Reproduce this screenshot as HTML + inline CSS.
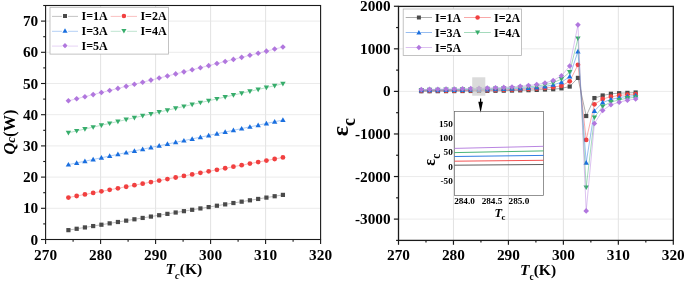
<!DOCTYPE html>
<html><head><meta charset="utf-8"><title>chart</title>
<style>html,body{margin:0;padding:0;background:#fff;}svg{display:block;will-change:transform;}</style>
</head><body>
<svg width="685" height="281" viewBox="0 0 685 281">
<rect width="685" height="281" fill="#fff"/>
<line x1="100.60" y1="5.5" x2="100.60" y2="239.5" stroke="#dbdbdb" stroke-width="0.8"/>
<line x1="155.60" y1="5.5" x2="155.60" y2="239.5" stroke="#dbdbdb" stroke-width="0.8"/>
<line x1="210.60" y1="5.5" x2="210.60" y2="239.5" stroke="#dbdbdb" stroke-width="0.8"/>
<line x1="265.60" y1="5.5" x2="265.60" y2="239.5" stroke="#dbdbdb" stroke-width="0.8"/>
<line x1="45.6" y1="208.30" x2="320.6" y2="208.30" stroke="#e6e6e6" stroke-width="0.8"/>
<line x1="45.6" y1="177.10" x2="320.6" y2="177.10" stroke="#e6e6e6" stroke-width="0.8"/>
<line x1="45.6" y1="145.90" x2="320.6" y2="145.90" stroke="#e6e6e6" stroke-width="0.8"/>
<line x1="45.6" y1="114.70" x2="320.6" y2="114.70" stroke="#e6e6e6" stroke-width="0.8"/>
<line x1="45.6" y1="83.50" x2="320.6" y2="83.50" stroke="#e6e6e6" stroke-width="0.8"/>
<line x1="45.6" y1="52.30" x2="320.6" y2="52.30" stroke="#e6e6e6" stroke-width="0.8"/>
<line x1="45.6" y1="21.10" x2="320.6" y2="21.10" stroke="#e6e6e6" stroke-width="0.8"/>
<polyline points="68.42,230.14 76.67,228.78 84.92,227.43 93.17,226.07 101.42,224.72 109.67,223.36 117.92,222.00 126.17,220.65 134.42,219.29 142.67,217.94 150.92,216.58 159.17,215.22 167.42,213.87 175.67,212.51 183.92,211.16 192.17,209.80 200.42,208.44 208.67,207.09 216.92,205.73 225.17,204.38 233.42,203.02 241.67,201.66 249.92,200.31 258.17,198.95 266.42,197.60 274.67,196.24 282.92,194.88" fill="none" stroke="#4a4a4a" stroke-width="0.7" stroke-opacity="0.5"/>
<rect x="66.32" y="228.04" width="4.20" height="4.20" fill="#4a4a4a"/>
<rect x="74.57" y="226.68" width="4.20" height="4.20" fill="#4a4a4a"/>
<rect x="82.82" y="225.33" width="4.20" height="4.20" fill="#4a4a4a"/>
<rect x="91.07" y="223.97" width="4.20" height="4.20" fill="#4a4a4a"/>
<rect x="99.32" y="222.62" width="4.20" height="4.20" fill="#4a4a4a"/>
<rect x="107.57" y="221.26" width="4.20" height="4.20" fill="#4a4a4a"/>
<rect x="115.82" y="219.90" width="4.20" height="4.20" fill="#4a4a4a"/>
<rect x="124.07" y="218.55" width="4.20" height="4.20" fill="#4a4a4a"/>
<rect x="132.32" y="217.19" width="4.20" height="4.20" fill="#4a4a4a"/>
<rect x="140.57" y="215.84" width="4.20" height="4.20" fill="#4a4a4a"/>
<rect x="148.82" y="214.48" width="4.20" height="4.20" fill="#4a4a4a"/>
<rect x="157.07" y="213.12" width="4.20" height="4.20" fill="#4a4a4a"/>
<rect x="165.32" y="211.77" width="4.20" height="4.20" fill="#4a4a4a"/>
<rect x="173.57" y="210.41" width="4.20" height="4.20" fill="#4a4a4a"/>
<rect x="181.82" y="209.06" width="4.20" height="4.20" fill="#4a4a4a"/>
<rect x="190.07" y="207.70" width="4.20" height="4.20" fill="#4a4a4a"/>
<rect x="198.32" y="206.34" width="4.20" height="4.20" fill="#4a4a4a"/>
<rect x="206.57" y="204.99" width="4.20" height="4.20" fill="#4a4a4a"/>
<rect x="214.82" y="203.63" width="4.20" height="4.20" fill="#4a4a4a"/>
<rect x="223.07" y="202.28" width="4.20" height="4.20" fill="#4a4a4a"/>
<rect x="231.32" y="200.92" width="4.20" height="4.20" fill="#4a4a4a"/>
<rect x="239.57" y="199.56" width="4.20" height="4.20" fill="#4a4a4a"/>
<rect x="247.82" y="198.21" width="4.20" height="4.20" fill="#4a4a4a"/>
<rect x="256.07" y="196.85" width="4.20" height="4.20" fill="#4a4a4a"/>
<rect x="264.32" y="195.50" width="4.20" height="4.20" fill="#4a4a4a"/>
<rect x="272.57" y="194.14" width="4.20" height="4.20" fill="#4a4a4a"/>
<rect x="280.82" y="192.78" width="4.20" height="4.20" fill="#4a4a4a"/>
<polyline points="68.42,197.54 76.67,195.99 84.92,194.45 93.17,192.91 101.42,191.37 109.67,189.83 117.92,188.28 126.17,186.74 134.42,185.20 142.67,183.66 150.92,182.12 159.17,180.57 167.42,179.03 175.67,177.49 183.92,175.95 192.17,174.41 200.42,172.86 208.67,171.32 216.92,169.78 225.17,168.24 233.42,166.70 241.67,165.15 249.92,163.61 258.17,162.07 266.42,160.53 274.67,158.99 282.92,157.44" fill="none" stroke="#F14040" stroke-width="0.7" stroke-opacity="0.5"/>
<circle cx="68.42" cy="197.54" r="2.40" fill="#F14040"/>
<circle cx="76.67" cy="195.99" r="2.40" fill="#F14040"/>
<circle cx="84.92" cy="194.45" r="2.40" fill="#F14040"/>
<circle cx="93.17" cy="192.91" r="2.40" fill="#F14040"/>
<circle cx="101.42" cy="191.37" r="2.40" fill="#F14040"/>
<circle cx="109.67" cy="189.83" r="2.40" fill="#F14040"/>
<circle cx="117.92" cy="188.28" r="2.40" fill="#F14040"/>
<circle cx="126.17" cy="186.74" r="2.40" fill="#F14040"/>
<circle cx="134.42" cy="185.20" r="2.40" fill="#F14040"/>
<circle cx="142.67" cy="183.66" r="2.40" fill="#F14040"/>
<circle cx="150.92" cy="182.12" r="2.40" fill="#F14040"/>
<circle cx="159.17" cy="180.57" r="2.40" fill="#F14040"/>
<circle cx="167.42" cy="179.03" r="2.40" fill="#F14040"/>
<circle cx="175.67" cy="177.49" r="2.40" fill="#F14040"/>
<circle cx="183.92" cy="175.95" r="2.40" fill="#F14040"/>
<circle cx="192.17" cy="174.41" r="2.40" fill="#F14040"/>
<circle cx="200.42" cy="172.86" r="2.40" fill="#F14040"/>
<circle cx="208.67" cy="171.32" r="2.40" fill="#F14040"/>
<circle cx="216.92" cy="169.78" r="2.40" fill="#F14040"/>
<circle cx="225.17" cy="168.24" r="2.40" fill="#F14040"/>
<circle cx="233.42" cy="166.70" r="2.40" fill="#F14040"/>
<circle cx="241.67" cy="165.15" r="2.40" fill="#F14040"/>
<circle cx="249.92" cy="163.61" r="2.40" fill="#F14040"/>
<circle cx="258.17" cy="162.07" r="2.40" fill="#F14040"/>
<circle cx="266.42" cy="160.53" r="2.40" fill="#F14040"/>
<circle cx="274.67" cy="158.99" r="2.40" fill="#F14040"/>
<circle cx="282.92" cy="157.44" r="2.40" fill="#F14040"/>
<polyline points="68.42,164.62 76.67,162.90 84.92,161.19 93.17,159.47 101.42,157.76 109.67,156.04 117.92,154.32 126.17,152.61 134.42,150.89 142.67,149.18 150.92,147.46 159.17,145.74 167.42,144.03 175.67,142.31 183.92,140.60 192.17,138.88 200.42,137.16 208.67,135.45 216.92,133.73 225.17,132.02 233.42,130.30 241.67,128.58 249.92,126.87 258.17,125.15 266.42,123.44 274.67,121.72 282.92,120.00" fill="none" stroke="#1A6FDF" stroke-width="0.7" stroke-opacity="0.5"/>
<path d="M65.72 166.62L71.12 166.62L68.42 161.92Z" fill="#1A6FDF"/>
<path d="M73.97 164.90L79.37 164.90L76.67 160.20Z" fill="#1A6FDF"/>
<path d="M82.22 163.19L87.62 163.19L84.92 158.49Z" fill="#1A6FDF"/>
<path d="M90.47 161.47L95.87 161.47L93.17 156.77Z" fill="#1A6FDF"/>
<path d="M98.72 159.76L104.12 159.76L101.42 155.06Z" fill="#1A6FDF"/>
<path d="M106.97 158.04L112.37 158.04L109.67 153.34Z" fill="#1A6FDF"/>
<path d="M115.22 156.32L120.62 156.32L117.92 151.62Z" fill="#1A6FDF"/>
<path d="M123.47 154.61L128.87 154.61L126.17 149.91Z" fill="#1A6FDF"/>
<path d="M131.72 152.89L137.12 152.89L134.42 148.19Z" fill="#1A6FDF"/>
<path d="M139.97 151.18L145.37 151.18L142.67 146.48Z" fill="#1A6FDF"/>
<path d="M148.22 149.46L153.62 149.46L150.92 144.76Z" fill="#1A6FDF"/>
<path d="M156.47 147.74L161.87 147.74L159.17 143.04Z" fill="#1A6FDF"/>
<path d="M164.72 146.03L170.12 146.03L167.42 141.33Z" fill="#1A6FDF"/>
<path d="M172.97 144.31L178.37 144.31L175.67 139.61Z" fill="#1A6FDF"/>
<path d="M181.22 142.60L186.62 142.60L183.92 137.90Z" fill="#1A6FDF"/>
<path d="M189.47 140.88L194.87 140.88L192.17 136.18Z" fill="#1A6FDF"/>
<path d="M197.72 139.16L203.12 139.16L200.42 134.46Z" fill="#1A6FDF"/>
<path d="M205.97 137.45L211.37 137.45L208.67 132.75Z" fill="#1A6FDF"/>
<path d="M214.22 135.73L219.62 135.73L216.92 131.03Z" fill="#1A6FDF"/>
<path d="M222.47 134.02L227.87 134.02L225.17 129.32Z" fill="#1A6FDF"/>
<path d="M230.72 132.30L236.12 132.30L233.42 127.60Z" fill="#1A6FDF"/>
<path d="M238.97 130.58L244.37 130.58L241.67 125.88Z" fill="#1A6FDF"/>
<path d="M247.22 128.87L252.62 128.87L249.92 124.17Z" fill="#1A6FDF"/>
<path d="M255.47 127.15L260.87 127.15L258.17 122.45Z" fill="#1A6FDF"/>
<path d="M263.72 125.44L269.12 125.44L266.42 120.74Z" fill="#1A6FDF"/>
<path d="M271.97 123.72L277.37 123.72L274.67 119.02Z" fill="#1A6FDF"/>
<path d="M280.22 122.00L285.62 122.00L282.92 117.30Z" fill="#1A6FDF"/>
<polyline points="68.42,132.80 76.67,130.91 84.92,129.03 93.17,127.14 101.42,125.26 109.67,123.38 117.92,121.49 126.17,119.61 134.42,117.72 142.67,115.84 150.92,113.96 159.17,112.07 167.42,110.19 175.67,108.30 183.92,106.42 192.17,104.54 200.42,102.65 208.67,100.77 216.92,98.88 225.17,97.00 233.42,95.12 241.67,93.23 249.92,91.35 258.17,89.46 266.42,87.58 274.67,85.70 282.92,83.81" fill="none" stroke="#37AD6B" stroke-width="0.7" stroke-opacity="0.5"/>
<path d="M65.72 130.80L71.12 130.80L68.42 135.50Z" fill="#37AD6B"/>
<path d="M73.97 128.91L79.37 128.91L76.67 133.61Z" fill="#37AD6B"/>
<path d="M82.22 127.03L87.62 127.03L84.92 131.73Z" fill="#37AD6B"/>
<path d="M90.47 125.14L95.87 125.14L93.17 129.84Z" fill="#37AD6B"/>
<path d="M98.72 123.26L104.12 123.26L101.42 127.96Z" fill="#37AD6B"/>
<path d="M106.97 121.38L112.37 121.38L109.67 126.08Z" fill="#37AD6B"/>
<path d="M115.22 119.49L120.62 119.49L117.92 124.19Z" fill="#37AD6B"/>
<path d="M123.47 117.61L128.87 117.61L126.17 122.31Z" fill="#37AD6B"/>
<path d="M131.72 115.72L137.12 115.72L134.42 120.42Z" fill="#37AD6B"/>
<path d="M139.97 113.84L145.37 113.84L142.67 118.54Z" fill="#37AD6B"/>
<path d="M148.22 111.96L153.62 111.96L150.92 116.66Z" fill="#37AD6B"/>
<path d="M156.47 110.07L161.87 110.07L159.17 114.77Z" fill="#37AD6B"/>
<path d="M164.72 108.19L170.12 108.19L167.42 112.89Z" fill="#37AD6B"/>
<path d="M172.97 106.30L178.37 106.30L175.67 111.00Z" fill="#37AD6B"/>
<path d="M181.22 104.42L186.62 104.42L183.92 109.12Z" fill="#37AD6B"/>
<path d="M189.47 102.54L194.87 102.54L192.17 107.24Z" fill="#37AD6B"/>
<path d="M197.72 100.65L203.12 100.65L200.42 105.35Z" fill="#37AD6B"/>
<path d="M205.97 98.77L211.37 98.77L208.67 103.47Z" fill="#37AD6B"/>
<path d="M214.22 96.88L219.62 96.88L216.92 101.58Z" fill="#37AD6B"/>
<path d="M222.47 95.00L227.87 95.00L225.17 99.70Z" fill="#37AD6B"/>
<path d="M230.72 93.12L236.12 93.12L233.42 97.82Z" fill="#37AD6B"/>
<path d="M238.97 91.23L244.37 91.23L241.67 95.93Z" fill="#37AD6B"/>
<path d="M247.22 89.35L252.62 89.35L249.92 94.05Z" fill="#37AD6B"/>
<path d="M255.47 87.46L260.87 87.46L258.17 92.16Z" fill="#37AD6B"/>
<path d="M263.72 85.58L269.12 85.58L266.42 90.28Z" fill="#37AD6B"/>
<path d="M271.97 83.70L277.37 83.70L274.67 88.40Z" fill="#37AD6B"/>
<path d="M280.22 81.81L285.62 81.81L282.92 86.51Z" fill="#37AD6B"/>
<polyline points="68.42,100.82 76.67,98.75 84.92,96.68 93.17,94.61 101.42,92.54 109.67,90.47 117.92,88.40 126.17,86.33 134.42,84.26 142.67,82.19 150.92,80.12 159.17,78.05 167.42,75.98 175.67,73.91 183.92,71.84 192.17,69.77 200.42,67.70 208.67,65.63 216.92,63.56 225.17,61.49 233.42,59.42 241.67,57.35 249.92,55.28 258.17,53.21 266.42,51.14 274.67,49.07 282.92,47.00" fill="none" stroke="#B177DE" stroke-width="0.7" stroke-opacity="0.5"/>
<path d="M65.62 100.82L68.42 98.02L71.22 100.82L68.42 103.62Z" fill="#B177DE"/>
<path d="M73.87 98.75L76.67 95.95L79.47 98.75L76.67 101.55Z" fill="#B177DE"/>
<path d="M82.12 96.68L84.92 93.88L87.72 96.68L84.92 99.48Z" fill="#B177DE"/>
<path d="M90.37 94.61L93.17 91.81L95.97 94.61L93.17 97.41Z" fill="#B177DE"/>
<path d="M98.62 92.54L101.42 89.74L104.22 92.54L101.42 95.34Z" fill="#B177DE"/>
<path d="M106.87 90.47L109.67 87.67L112.47 90.47L109.67 93.27Z" fill="#B177DE"/>
<path d="M115.12 88.40L117.92 85.60L120.72 88.40L117.92 91.20Z" fill="#B177DE"/>
<path d="M123.37 86.33L126.17 83.53L128.97 86.33L126.17 89.13Z" fill="#B177DE"/>
<path d="M131.62 84.26L134.42 81.46L137.22 84.26L134.42 87.06Z" fill="#B177DE"/>
<path d="M139.87 82.19L142.67 79.39L145.47 82.19L142.67 84.99Z" fill="#B177DE"/>
<path d="M148.12 80.12L150.92 77.32L153.72 80.12L150.92 82.92Z" fill="#B177DE"/>
<path d="M156.37 78.05L159.17 75.25L161.97 78.05L159.17 80.85Z" fill="#B177DE"/>
<path d="M164.62 75.98L167.42 73.18L170.22 75.98L167.42 78.78Z" fill="#B177DE"/>
<path d="M172.87 73.91L175.67 71.11L178.47 73.91L175.67 76.71Z" fill="#B177DE"/>
<path d="M181.12 71.84L183.92 69.04L186.72 71.84L183.92 74.64Z" fill="#B177DE"/>
<path d="M189.37 69.77L192.17 66.97L194.97 69.77L192.17 72.57Z" fill="#B177DE"/>
<path d="M197.62 67.70L200.42 64.90L203.22 67.70L200.42 70.50Z" fill="#B177DE"/>
<path d="M205.87 65.63L208.67 62.83L211.47 65.63L208.67 68.43Z" fill="#B177DE"/>
<path d="M214.12 63.56L216.92 60.76L219.72 63.56L216.92 66.36Z" fill="#B177DE"/>
<path d="M222.37 61.49L225.17 58.69L227.97 61.49L225.17 64.29Z" fill="#B177DE"/>
<path d="M230.62 59.42L233.42 56.62L236.22 59.42L233.42 62.22Z" fill="#B177DE"/>
<path d="M238.87 57.35L241.67 54.55L244.47 57.35L241.67 60.15Z" fill="#B177DE"/>
<path d="M247.12 55.28L249.92 52.48L252.72 55.28L249.92 58.08Z" fill="#B177DE"/>
<path d="M255.37 53.21L258.17 50.41L260.97 53.21L258.17 56.01Z" fill="#B177DE"/>
<path d="M263.62 51.14L266.42 48.34L269.22 51.14L266.42 53.94Z" fill="#B177DE"/>
<path d="M271.87 49.07L274.67 46.27L277.47 49.07L274.67 51.87Z" fill="#B177DE"/>
<path d="M280.12 47.00L282.92 44.20L285.72 47.00L282.92 49.80Z" fill="#B177DE"/>
<rect x="50" y="7.3" width="118.4" height="46.8" fill="#fff" stroke="#b4b4b4" stroke-width="0.8"/>
<path d="M52 16.40H61.9M68.1 16.40H78" stroke="#4a4a4a" stroke-width="0.65" stroke-opacity="0.5" fill="none"/>
<rect x="63.01" y="14.01" width="3.99" height="3.99" fill="#4a4a4a"/>
<text x="81.6" y="20.0" font-family="Liberation Serif, serif" font-weight="bold" font-size="12" fill="#000">I=1A</text>
<path d="M110.7 16.40H120.8M127.0 16.40H137" stroke="#F14040" stroke-width="0.65" stroke-opacity="0.5" fill="none"/>
<circle cx="123.90" cy="16.00" r="2.28" fill="#F14040"/>
<text x="140.4" y="20.0" font-family="Liberation Serif, serif" font-weight="bold" font-size="12" fill="#000">I=2A</text>
<path d="M52 31.30H61.9M68.1 31.30H78" stroke="#1A6FDF" stroke-width="0.65" stroke-opacity="0.5" fill="none"/>
<path d="M62.44 32.80L67.56 32.80L65.00 28.33Z" fill="#1A6FDF"/>
<text x="81.6" y="34.9" font-family="Liberation Serif, serif" font-weight="bold" font-size="12" fill="#000">I=3A</text>
<path d="M110.7 31.30H120.8M127.0 31.30H137" stroke="#37AD6B" stroke-width="0.65" stroke-opacity="0.5" fill="none"/>
<path d="M121.34 29.00L126.47 29.00L123.90 33.46Z" fill="#37AD6B"/>
<text x="140.4" y="34.9" font-family="Liberation Serif, serif" font-weight="bold" font-size="12" fill="#000">I=4A</text>
<path d="M52 46.10H61.9M68.1 46.10H78" stroke="#B177DE" stroke-width="0.65" stroke-opacity="0.5" fill="none"/>
<path d="M62.34 45.70L65.00 43.04L67.66 45.70L65.00 48.36Z" fill="#B177DE"/>
<text x="81.6" y="49.7" font-family="Liberation Serif, serif" font-weight="bold" font-size="12" fill="#000">I=5A</text>
<rect x="45.6" y="5.5" width="275.0" height="234.0" fill="none" stroke="#1a1a1a" stroke-width="1.1"/>
<line x1="41.00" y1="239.50" x2="45.6" y2="239.50" stroke="#1a1a1a" stroke-width="1.1"/>
<text x="38.2" y="244.50" text-anchor="end" font-family="Liberation Serif, serif" font-weight="bold" font-size="15.3" fill="#000">0</text>
<line x1="43.20" y1="223.90" x2="45.6" y2="223.90" stroke="#1a1a1a" stroke-width="1.1"/>
<line x1="41.00" y1="208.30" x2="45.6" y2="208.30" stroke="#1a1a1a" stroke-width="1.1"/>
<text x="38.2" y="213.30" text-anchor="end" font-family="Liberation Serif, serif" font-weight="bold" font-size="15.3" fill="#000">10</text>
<line x1="43.20" y1="192.70" x2="45.6" y2="192.70" stroke="#1a1a1a" stroke-width="1.1"/>
<line x1="41.00" y1="177.10" x2="45.6" y2="177.10" stroke="#1a1a1a" stroke-width="1.1"/>
<text x="38.2" y="182.10" text-anchor="end" font-family="Liberation Serif, serif" font-weight="bold" font-size="15.3" fill="#000">20</text>
<line x1="43.20" y1="161.50" x2="45.6" y2="161.50" stroke="#1a1a1a" stroke-width="1.1"/>
<line x1="41.00" y1="145.90" x2="45.6" y2="145.90" stroke="#1a1a1a" stroke-width="1.1"/>
<text x="38.2" y="150.90" text-anchor="end" font-family="Liberation Serif, serif" font-weight="bold" font-size="15.3" fill="#000">30</text>
<line x1="43.20" y1="130.30" x2="45.6" y2="130.30" stroke="#1a1a1a" stroke-width="1.1"/>
<line x1="41.00" y1="114.70" x2="45.6" y2="114.70" stroke="#1a1a1a" stroke-width="1.1"/>
<text x="38.2" y="119.70" text-anchor="end" font-family="Liberation Serif, serif" font-weight="bold" font-size="15.3" fill="#000">40</text>
<line x1="43.20" y1="99.10" x2="45.6" y2="99.10" stroke="#1a1a1a" stroke-width="1.1"/>
<line x1="41.00" y1="83.50" x2="45.6" y2="83.50" stroke="#1a1a1a" stroke-width="1.1"/>
<text x="38.2" y="88.50" text-anchor="end" font-family="Liberation Serif, serif" font-weight="bold" font-size="15.3" fill="#000">50</text>
<line x1="43.20" y1="67.90" x2="45.6" y2="67.90" stroke="#1a1a1a" stroke-width="1.1"/>
<line x1="41.00" y1="52.30" x2="45.6" y2="52.30" stroke="#1a1a1a" stroke-width="1.1"/>
<text x="38.2" y="57.30" text-anchor="end" font-family="Liberation Serif, serif" font-weight="bold" font-size="15.3" fill="#000">60</text>
<line x1="43.20" y1="36.70" x2="45.6" y2="36.70" stroke="#1a1a1a" stroke-width="1.1"/>
<line x1="41.00" y1="21.10" x2="45.6" y2="21.10" stroke="#1a1a1a" stroke-width="1.1"/>
<text x="38.2" y="26.10" text-anchor="end" font-family="Liberation Serif, serif" font-weight="bold" font-size="15.3" fill="#000">70</text>
<line x1="43.20" y1="5.50" x2="45.6" y2="5.50" stroke="#1a1a1a" stroke-width="1.1"/>
<line x1="45.60" y1="239.5" x2="45.60" y2="243.90" stroke="#1a1a1a" stroke-width="1.1"/>
<text x="45.60" y="259.6" text-anchor="middle" font-family="Liberation Serif, serif" font-weight="bold" font-size="15.3" fill="#000">270</text>
<line x1="73.10" y1="239.5" x2="73.10" y2="241.70" stroke="#1a1a1a" stroke-width="1.1"/>
<line x1="100.60" y1="239.5" x2="100.60" y2="243.90" stroke="#1a1a1a" stroke-width="1.1"/>
<text x="100.60" y="259.6" text-anchor="middle" font-family="Liberation Serif, serif" font-weight="bold" font-size="15.3" fill="#000">280</text>
<line x1="128.10" y1="239.5" x2="128.10" y2="241.70" stroke="#1a1a1a" stroke-width="1.1"/>
<line x1="155.60" y1="239.5" x2="155.60" y2="243.90" stroke="#1a1a1a" stroke-width="1.1"/>
<text x="155.60" y="259.6" text-anchor="middle" font-family="Liberation Serif, serif" font-weight="bold" font-size="15.3" fill="#000">290</text>
<line x1="183.10" y1="239.5" x2="183.10" y2="241.70" stroke="#1a1a1a" stroke-width="1.1"/>
<line x1="210.60" y1="239.5" x2="210.60" y2="243.90" stroke="#1a1a1a" stroke-width="1.1"/>
<text x="210.60" y="259.6" text-anchor="middle" font-family="Liberation Serif, serif" font-weight="bold" font-size="15.3" fill="#000">300</text>
<line x1="238.10" y1="239.5" x2="238.10" y2="241.70" stroke="#1a1a1a" stroke-width="1.1"/>
<line x1="265.60" y1="239.5" x2="265.60" y2="243.90" stroke="#1a1a1a" stroke-width="1.1"/>
<text x="265.60" y="259.6" text-anchor="middle" font-family="Liberation Serif, serif" font-weight="bold" font-size="15.3" fill="#000">310</text>
<line x1="293.10" y1="239.5" x2="293.10" y2="241.70" stroke="#1a1a1a" stroke-width="1.1"/>
<line x1="320.60" y1="239.5" x2="320.60" y2="243.90" stroke="#1a1a1a" stroke-width="1.1"/>
<text x="320.60" y="259.6" text-anchor="middle" font-family="Liberation Serif, serif" font-weight="bold" font-size="15.3" fill="#000">320</text>
<text x="165.6" y="274.4" font-family="Liberation Serif, serif" font-weight="bold" font-size="15.5" fill="#000"><tspan font-style="italic">T</tspan><tspan font-style="italic" font-size="10.5" dy="4.2">c</tspan><tspan dy="-4.2">(K)</tspan></text>
<text transform="translate(14.8,154.6) rotate(-90)" x="0" y="0" font-family="Liberation Serif, serif" font-weight="bold" font-size="16.5" fill="#000"><tspan font-style="italic">Q</tspan><tspan font-style="italic" font-size="13">c</tspan><tspan>(W)</tspan></text>
<line x1="453.46" y1="6.4" x2="453.46" y2="240.4" stroke="#dbdbdb" stroke-width="0.8"/>
<line x1="508.42" y1="6.4" x2="508.42" y2="240.4" stroke="#dbdbdb" stroke-width="0.8"/>
<line x1="563.38" y1="6.4" x2="563.38" y2="240.4" stroke="#dbdbdb" stroke-width="0.8"/>
<line x1="618.34" y1="6.4" x2="618.34" y2="240.4" stroke="#dbdbdb" stroke-width="0.8"/>
<line x1="398.5" y1="48.83" x2="673.3" y2="48.83" stroke="#e6e6e6" stroke-width="0.8"/>
<line x1="398.5" y1="91.40" x2="673.3" y2="91.40" stroke="#e6e6e6" stroke-width="0.8"/>
<line x1="398.5" y1="133.97" x2="673.3" y2="133.97" stroke="#e6e6e6" stroke-width="0.8"/>
<line x1="398.5" y1="176.54" x2="673.3" y2="176.54" stroke="#e6e6e6" stroke-width="0.8"/>
<line x1="398.5" y1="219.11" x2="673.3" y2="219.11" stroke="#e6e6e6" stroke-width="0.8"/>
<polyline points="421.31,91.21 429.55,91.19 437.80,91.15 446.04,91.12 454.28,91.08 462.53,91.03 470.77,90.98 479.02,90.92 487.26,90.85 495.50,90.77 503.75,90.67 511.99,90.54 520.24,90.39 528.48,90.18 536.72,89.91 544.97,89.48 553.21,89.23 561.46,88.33 569.70,86.55 577.94,77.91 586.19,116.01 594.43,98.08 602.68,95.49 610.92,93.78 619.16,93.19 627.41,92.89 635.65,92.51" fill="none" stroke="#4a4a4a" stroke-width="0.75" stroke-opacity="0.6"/>
<rect x="419.21" y="89.11" width="4.20" height="4.20" fill="#4a4a4a"/>
<rect x="427.45" y="89.09" width="4.20" height="4.20" fill="#4a4a4a"/>
<rect x="435.70" y="89.05" width="4.20" height="4.20" fill="#4a4a4a"/>
<rect x="443.94" y="89.02" width="4.20" height="4.20" fill="#4a4a4a"/>
<rect x="452.18" y="88.98" width="4.20" height="4.20" fill="#4a4a4a"/>
<rect x="460.43" y="88.93" width="4.20" height="4.20" fill="#4a4a4a"/>
<rect x="468.67" y="88.88" width="4.20" height="4.20" fill="#4a4a4a"/>
<rect x="476.92" y="88.82" width="4.20" height="4.20" fill="#4a4a4a"/>
<rect x="485.16" y="88.75" width="4.20" height="4.20" fill="#4a4a4a"/>
<rect x="493.40" y="88.67" width="4.20" height="4.20" fill="#4a4a4a"/>
<rect x="501.65" y="88.57" width="4.20" height="4.20" fill="#4a4a4a"/>
<rect x="509.89" y="88.44" width="4.20" height="4.20" fill="#4a4a4a"/>
<rect x="518.14" y="88.29" width="4.20" height="4.20" fill="#4a4a4a"/>
<rect x="526.38" y="88.08" width="4.20" height="4.20" fill="#4a4a4a"/>
<rect x="534.62" y="87.81" width="4.20" height="4.20" fill="#4a4a4a"/>
<rect x="542.87" y="87.38" width="4.20" height="4.20" fill="#4a4a4a"/>
<rect x="551.11" y="87.13" width="4.20" height="4.20" fill="#4a4a4a"/>
<rect x="559.36" y="86.23" width="4.20" height="4.20" fill="#4a4a4a"/>
<rect x="567.60" y="84.45" width="4.20" height="4.20" fill="#4a4a4a"/>
<rect x="575.84" y="75.81" width="4.20" height="4.20" fill="#4a4a4a"/>
<rect x="584.09" y="113.91" width="4.20" height="4.20" fill="#4a4a4a"/>
<rect x="592.33" y="95.98" width="4.20" height="4.20" fill="#4a4a4a"/>
<rect x="600.58" y="93.39" width="4.20" height="4.20" fill="#4a4a4a"/>
<rect x="608.82" y="91.68" width="4.20" height="4.20" fill="#4a4a4a"/>
<rect x="617.06" y="91.09" width="4.20" height="4.20" fill="#4a4a4a"/>
<rect x="625.31" y="90.79" width="4.20" height="4.20" fill="#4a4a4a"/>
<rect x="633.55" y="90.41" width="4.20" height="4.20" fill="#4a4a4a"/>
<polyline points="421.31,90.80 429.55,90.75 437.80,90.70 446.04,90.64 454.28,90.57 462.53,90.50 470.77,90.41 479.02,90.30 487.26,90.18 495.50,90.04 503.75,89.87 511.99,89.66 520.24,89.39 528.48,89.04 536.72,88.57 544.97,87.91 553.21,87.14 561.46,85.74 569.70,81.35 577.94,64.79 586.19,139.89 594.43,104.30 602.68,99.02 610.92,96.72 619.16,95.49 627.41,94.59 635.65,94.08" fill="none" stroke="#F14040" stroke-width="0.75" stroke-opacity="0.6"/>
<circle cx="421.31" cy="90.80" r="2.40" fill="#F14040"/>
<circle cx="429.55" cy="90.75" r="2.40" fill="#F14040"/>
<circle cx="437.80" cy="90.70" r="2.40" fill="#F14040"/>
<circle cx="446.04" cy="90.64" r="2.40" fill="#F14040"/>
<circle cx="454.28" cy="90.57" r="2.40" fill="#F14040"/>
<circle cx="462.53" cy="90.50" r="2.40" fill="#F14040"/>
<circle cx="470.77" cy="90.41" r="2.40" fill="#F14040"/>
<circle cx="479.02" cy="90.30" r="2.40" fill="#F14040"/>
<circle cx="487.26" cy="90.18" r="2.40" fill="#F14040"/>
<circle cx="495.50" cy="90.04" r="2.40" fill="#F14040"/>
<circle cx="503.75" cy="89.87" r="2.40" fill="#F14040"/>
<circle cx="511.99" cy="89.66" r="2.40" fill="#F14040"/>
<circle cx="520.24" cy="89.39" r="2.40" fill="#F14040"/>
<circle cx="528.48" cy="89.04" r="2.40" fill="#F14040"/>
<circle cx="536.72" cy="88.57" r="2.40" fill="#F14040"/>
<circle cx="544.97" cy="87.91" r="2.40" fill="#F14040"/>
<circle cx="553.21" cy="87.14" r="2.40" fill="#F14040"/>
<circle cx="561.46" cy="85.74" r="2.40" fill="#F14040"/>
<circle cx="569.70" cy="81.35" r="2.40" fill="#F14040"/>
<circle cx="577.94" cy="64.79" r="2.40" fill="#F14040"/>
<circle cx="586.19" cy="139.89" r="2.40" fill="#F14040"/>
<circle cx="594.43" cy="104.30" r="2.40" fill="#F14040"/>
<circle cx="602.68" cy="99.02" r="2.40" fill="#F14040"/>
<circle cx="610.92" cy="96.72" r="2.40" fill="#F14040"/>
<circle cx="619.16" cy="95.49" r="2.40" fill="#F14040"/>
<circle cx="627.41" cy="94.59" r="2.40" fill="#F14040"/>
<circle cx="635.65" cy="94.08" r="2.40" fill="#F14040"/>
<polyline points="421.31,90.33 429.55,90.27 437.80,90.20 446.04,90.12 454.28,90.03 462.53,89.93 470.77,89.81 479.02,89.68 487.26,89.52 495.50,89.33 503.75,89.10 511.99,88.82 520.24,88.47 528.48,88.01 536.72,87.39 544.97,86.50 553.21,84.84 561.46,82.25 569.70,76.50 577.94,51.38 586.19,162.70 594.43,110.90 602.68,102.51 610.92,99.40 619.16,97.62 627.41,96.38 635.65,95.49" fill="none" stroke="#1A6FDF" stroke-width="0.75" stroke-opacity="0.6"/>
<path d="M418.61 92.33L424.01 92.33L421.31 87.63Z" fill="#1A6FDF"/>
<path d="M426.85 92.27L432.25 92.27L429.55 87.57Z" fill="#1A6FDF"/>
<path d="M435.10 92.20L440.50 92.20L437.80 87.50Z" fill="#1A6FDF"/>
<path d="M443.34 92.12L448.74 92.12L446.04 87.42Z" fill="#1A6FDF"/>
<path d="M451.58 92.03L456.98 92.03L454.28 87.33Z" fill="#1A6FDF"/>
<path d="M459.83 91.93L465.23 91.93L462.53 87.23Z" fill="#1A6FDF"/>
<path d="M468.07 91.81L473.47 91.81L470.77 87.11Z" fill="#1A6FDF"/>
<path d="M476.32 91.68L481.72 91.68L479.02 86.98Z" fill="#1A6FDF"/>
<path d="M484.56 91.52L489.96 91.52L487.26 86.82Z" fill="#1A6FDF"/>
<path d="M492.80 91.33L498.20 91.33L495.50 86.63Z" fill="#1A6FDF"/>
<path d="M501.05 91.10L506.45 91.10L503.75 86.40Z" fill="#1A6FDF"/>
<path d="M509.29 90.82L514.69 90.82L511.99 86.12Z" fill="#1A6FDF"/>
<path d="M517.54 90.47L522.94 90.47L520.24 85.77Z" fill="#1A6FDF"/>
<path d="M525.78 90.01L531.18 90.01L528.48 85.31Z" fill="#1A6FDF"/>
<path d="M534.02 89.39L539.42 89.39L536.72 84.69Z" fill="#1A6FDF"/>
<path d="M542.27 88.50L547.67 88.50L544.97 83.80Z" fill="#1A6FDF"/>
<path d="M550.51 86.84L555.91 86.84L553.21 82.14Z" fill="#1A6FDF"/>
<path d="M558.76 84.25L564.16 84.25L561.46 79.55Z" fill="#1A6FDF"/>
<path d="M567.00 78.50L572.40 78.50L569.70 73.80Z" fill="#1A6FDF"/>
<path d="M575.24 53.38L580.64 53.38L577.94 48.68Z" fill="#1A6FDF"/>
<path d="M583.49 164.70L588.89 164.70L586.19 160.00Z" fill="#1A6FDF"/>
<path d="M591.73 112.90L597.13 112.90L594.43 108.20Z" fill="#1A6FDF"/>
<path d="M599.98 104.51L605.38 104.51L602.68 99.81Z" fill="#1A6FDF"/>
<path d="M608.22 101.40L613.62 101.40L610.92 96.70Z" fill="#1A6FDF"/>
<path d="M616.46 99.62L621.86 99.62L619.16 94.92Z" fill="#1A6FDF"/>
<path d="M624.71 98.38L630.11 98.38L627.41 93.68Z" fill="#1A6FDF"/>
<path d="M632.95 97.49L638.35 97.49L635.65 92.79Z" fill="#1A6FDF"/>
<polyline points="421.31,89.91 429.55,89.82 437.80,89.73 446.04,89.62 454.28,89.50 462.53,89.37 470.77,89.21 479.02,89.03 487.26,88.82 495.50,88.57 503.75,88.26 511.99,87.89 520.24,87.42 528.48,86.81 536.72,85.97 544.97,84.80 553.21,82.76 561.46,79.10 569.70,72.12 577.94,38.40 586.19,187.40 594.43,117.41 602.68,106.38 610.92,102.00 619.16,99.91 627.41,98.08 635.65,97.32" fill="none" stroke="#37AD6B" stroke-width="0.75" stroke-opacity="0.6"/>
<path d="M418.61 87.91L424.01 87.91L421.31 92.61Z" fill="#37AD6B"/>
<path d="M426.85 87.82L432.25 87.82L429.55 92.52Z" fill="#37AD6B"/>
<path d="M435.10 87.73L440.50 87.73L437.80 92.43Z" fill="#37AD6B"/>
<path d="M443.34 87.62L448.74 87.62L446.04 92.32Z" fill="#37AD6B"/>
<path d="M451.58 87.50L456.98 87.50L454.28 92.20Z" fill="#37AD6B"/>
<path d="M459.83 87.37L465.23 87.37L462.53 92.07Z" fill="#37AD6B"/>
<path d="M468.07 87.21L473.47 87.21L470.77 91.91Z" fill="#37AD6B"/>
<path d="M476.32 87.03L481.72 87.03L479.02 91.73Z" fill="#37AD6B"/>
<path d="M484.56 86.82L489.96 86.82L487.26 91.52Z" fill="#37AD6B"/>
<path d="M492.80 86.57L498.20 86.57L495.50 91.27Z" fill="#37AD6B"/>
<path d="M501.05 86.26L506.45 86.26L503.75 90.96Z" fill="#37AD6B"/>
<path d="M509.29 85.89L514.69 85.89L511.99 90.59Z" fill="#37AD6B"/>
<path d="M517.54 85.42L522.94 85.42L520.24 90.12Z" fill="#37AD6B"/>
<path d="M525.78 84.81L531.18 84.81L528.48 89.51Z" fill="#37AD6B"/>
<path d="M534.02 83.97L539.42 83.97L536.72 88.67Z" fill="#37AD6B"/>
<path d="M542.27 82.80L547.67 82.80L544.97 87.50Z" fill="#37AD6B"/>
<path d="M550.51 80.76L555.91 80.76L553.21 85.46Z" fill="#37AD6B"/>
<path d="M558.76 77.10L564.16 77.10L561.46 81.80Z" fill="#37AD6B"/>
<path d="M567.00 70.12L572.40 70.12L569.70 74.82Z" fill="#37AD6B"/>
<path d="M575.24 36.40L580.64 36.40L577.94 41.10Z" fill="#37AD6B"/>
<path d="M583.49 185.40L588.89 185.40L586.19 190.10Z" fill="#37AD6B"/>
<path d="M591.73 115.41L597.13 115.41L594.43 120.11Z" fill="#37AD6B"/>
<path d="M599.98 104.38L605.38 104.38L602.68 109.08Z" fill="#37AD6B"/>
<path d="M608.22 100.00L613.62 100.00L610.92 104.70Z" fill="#37AD6B"/>
<path d="M616.46 97.91L621.86 97.91L619.16 102.61Z" fill="#37AD6B"/>
<path d="M624.71 96.08L630.11 96.08L627.41 100.78Z" fill="#37AD6B"/>
<path d="M632.95 95.32L638.35 95.32L635.65 100.02Z" fill="#37AD6B"/>
<polyline points="421.31,89.48 429.55,89.37 437.80,89.25 446.04,89.12 454.28,88.97 462.53,88.80 470.77,88.60 479.02,88.37 487.26,88.10 495.50,87.79 503.75,87.40 511.99,86.93 520.24,86.33 528.48,85.56 536.72,84.50 544.97,83.01 553.21,80.46 561.46,75.82 569.70,66.07 577.94,24.86 586.19,210.89 594.43,123.50 602.68,110.39 610.92,104.81 619.16,102.21 627.41,100.21 635.65,99.02" fill="none" stroke="#B177DE" stroke-width="0.75" stroke-opacity="0.6"/>
<path d="M418.51 89.48L421.31 86.68L424.11 89.48L421.31 92.28Z" fill="#B177DE"/>
<path d="M426.75 89.37L429.55 86.57L432.35 89.37L429.55 92.17Z" fill="#B177DE"/>
<path d="M435.00 89.25L437.80 86.45L440.60 89.25L437.80 92.05Z" fill="#B177DE"/>
<path d="M443.24 89.12L446.04 86.32L448.84 89.12L446.04 91.92Z" fill="#B177DE"/>
<path d="M451.48 88.97L454.28 86.17L457.08 88.97L454.28 91.77Z" fill="#B177DE"/>
<path d="M459.73 88.80L462.53 86.00L465.33 88.80L462.53 91.60Z" fill="#B177DE"/>
<path d="M467.97 88.60L470.77 85.80L473.57 88.60L470.77 91.40Z" fill="#B177DE"/>
<path d="M476.22 88.37L479.02 85.57L481.82 88.37L479.02 91.17Z" fill="#B177DE"/>
<path d="M484.46 88.10L487.26 85.30L490.06 88.10L487.26 90.90Z" fill="#B177DE"/>
<path d="M492.70 87.79L495.50 84.99L498.30 87.79L495.50 90.59Z" fill="#B177DE"/>
<path d="M500.95 87.40L503.75 84.60L506.55 87.40L503.75 90.20Z" fill="#B177DE"/>
<path d="M509.19 86.93L511.99 84.13L514.79 86.93L511.99 89.73Z" fill="#B177DE"/>
<path d="M517.44 86.33L520.24 83.53L523.04 86.33L520.24 89.13Z" fill="#B177DE"/>
<path d="M525.68 85.56L528.48 82.76L531.28 85.56L528.48 88.36Z" fill="#B177DE"/>
<path d="M533.92 84.50L536.72 81.70L539.52 84.50L536.72 87.30Z" fill="#B177DE"/>
<path d="M542.17 83.01L544.97 80.21L547.77 83.01L544.97 85.81Z" fill="#B177DE"/>
<path d="M550.41 80.46L553.21 77.66L556.01 80.46L553.21 83.26Z" fill="#B177DE"/>
<path d="M558.66 75.82L561.46 73.02L564.26 75.82L561.46 78.62Z" fill="#B177DE"/>
<path d="M566.90 66.07L569.70 63.27L572.50 66.07L569.70 68.87Z" fill="#B177DE"/>
<path d="M575.14 24.86L577.94 22.06L580.74 24.86L577.94 27.66Z" fill="#B177DE"/>
<path d="M583.39 210.89L586.19 208.09L588.99 210.89L586.19 213.69Z" fill="#B177DE"/>
<path d="M591.63 123.50L594.43 120.70L597.23 123.50L594.43 126.30Z" fill="#B177DE"/>
<path d="M599.88 110.39L602.68 107.59L605.48 110.39L602.68 113.19Z" fill="#B177DE"/>
<path d="M608.12 104.81L610.92 102.01L613.72 104.81L610.92 107.61Z" fill="#B177DE"/>
<path d="M616.36 102.21L619.16 99.41L621.96 102.21L619.16 105.01Z" fill="#B177DE"/>
<path d="M624.61 100.21L627.41 97.41L630.21 100.21L627.41 103.01Z" fill="#B177DE"/>
<path d="M632.85 99.02L635.65 96.22L638.45 99.02L635.65 101.82Z" fill="#B177DE"/>
<rect x="472.2" y="77.3" width="13.1" height="18.4" fill="#c8c8c8" fill-opacity="0.66"/>
<line x1="480.6" y1="98.4" x2="480.6" y2="104" stroke="#000" stroke-width="1.2"/>
<path d="M478.3 101.8L482.9 101.8L480.6 112.8Z" fill="#000"/>
<rect x="403.2" y="9.0" width="118.3" height="46.5" fill="#fff" stroke="#b4b4b4" stroke-width="0.8"/>
<path d="M405.7 17.50H417.4M420.4 17.50H432" stroke="#4a4a4a" stroke-width="0.65" stroke-opacity="0.7" fill="none"/>
<rect x="416.90" y="15.51" width="3.99" height="3.99" fill="#4a4a4a"/>
<text x="435.0" y="21.5" font-family="Liberation Serif, serif" font-weight="bold" font-size="12" fill="#000">I=1A</text>
<path d="M464 17.50H476.1M479.1 17.50H490.8" stroke="#F14040" stroke-width="0.65" stroke-opacity="0.7" fill="none"/>
<circle cx="477.60" cy="17.50" r="2.28" fill="#F14040"/>
<text x="494.1" y="21.5" font-family="Liberation Serif, serif" font-weight="bold" font-size="12" fill="#000">I=2A</text>
<path d="M405.7 32.50H417.4M420.4 32.50H432" stroke="#1A6FDF" stroke-width="0.65" stroke-opacity="0.7" fill="none"/>
<path d="M416.33 34.40L421.46 34.40L418.90 29.93Z" fill="#1A6FDF"/>
<text x="435.0" y="36.5" font-family="Liberation Serif, serif" font-weight="bold" font-size="12" fill="#000">I=3A</text>
<path d="M464 32.50H476.1M479.1 32.50H490.8" stroke="#37AD6B" stroke-width="0.65" stroke-opacity="0.7" fill="none"/>
<path d="M475.04 30.60L480.17 30.60L477.60 35.06Z" fill="#37AD6B"/>
<text x="494.1" y="36.5" font-family="Liberation Serif, serif" font-weight="bold" font-size="12" fill="#000">I=4A</text>
<path d="M405.7 47.50H417.4M420.4 47.50H432" stroke="#B177DE" stroke-width="0.65" stroke-opacity="0.7" fill="none"/>
<path d="M416.24 47.50L418.90 44.84L421.56 47.50L418.90 50.16Z" fill="#B177DE"/>
<text x="435.0" y="51.5" font-family="Liberation Serif, serif" font-weight="bold" font-size="12" fill="#000">I=5A</text>
<rect x="398.5" y="6.4" width="274.8" height="234.0" fill="none" stroke="#1a1a1a" stroke-width="1.3"/>
<line x1="396.10" y1="240.40" x2="398.5" y2="240.40" stroke="#1a1a1a" stroke-width="1.2"/>
<line x1="393.90" y1="219.11" x2="398.5" y2="219.11" stroke="#1a1a1a" stroke-width="1.2"/>
<text x="390.6" y="224.11" text-anchor="end" font-family="Liberation Serif, serif" font-weight="bold" font-size="15.3" fill="#000">-3000</text>
<line x1="396.10" y1="197.83" x2="398.5" y2="197.83" stroke="#1a1a1a" stroke-width="1.2"/>
<line x1="393.90" y1="176.54" x2="398.5" y2="176.54" stroke="#1a1a1a" stroke-width="1.2"/>
<text x="390.6" y="181.54" text-anchor="end" font-family="Liberation Serif, serif" font-weight="bold" font-size="15.3" fill="#000">-2000</text>
<line x1="396.10" y1="155.25" x2="398.5" y2="155.25" stroke="#1a1a1a" stroke-width="1.2"/>
<line x1="393.90" y1="133.97" x2="398.5" y2="133.97" stroke="#1a1a1a" stroke-width="1.2"/>
<text x="390.6" y="138.97" text-anchor="end" font-family="Liberation Serif, serif" font-weight="bold" font-size="15.3" fill="#000">-1000</text>
<line x1="396.10" y1="112.69" x2="398.5" y2="112.69" stroke="#1a1a1a" stroke-width="1.2"/>
<line x1="393.90" y1="91.40" x2="398.5" y2="91.40" stroke="#1a1a1a" stroke-width="1.2"/>
<text x="390.6" y="96.40" text-anchor="end" font-family="Liberation Serif, serif" font-weight="bold" font-size="15.3" fill="#000">0</text>
<line x1="396.10" y1="70.12" x2="398.5" y2="70.12" stroke="#1a1a1a" stroke-width="1.2"/>
<line x1="393.90" y1="48.83" x2="398.5" y2="48.83" stroke="#1a1a1a" stroke-width="1.2"/>
<text x="390.6" y="53.83" text-anchor="end" font-family="Liberation Serif, serif" font-weight="bold" font-size="15.3" fill="#000">1000</text>
<line x1="396.10" y1="27.55" x2="398.5" y2="27.55" stroke="#1a1a1a" stroke-width="1.2"/>
<line x1="393.90" y1="6.26" x2="398.5" y2="6.26" stroke="#1a1a1a" stroke-width="1.2"/>
<text x="390.6" y="11.26" text-anchor="end" font-family="Liberation Serif, serif" font-weight="bold" font-size="15.3" fill="#000">2000</text>
<line x1="398.50" y1="240.4" x2="398.50" y2="244.80" stroke="#1a1a1a" stroke-width="1.2"/>
<text x="398.50" y="260.2" text-anchor="middle" font-family="Liberation Serif, serif" font-weight="bold" font-size="15.3" fill="#000">270</text>
<line x1="425.98" y1="240.4" x2="425.98" y2="242.60" stroke="#1a1a1a" stroke-width="1.2"/>
<line x1="453.46" y1="240.4" x2="453.46" y2="244.80" stroke="#1a1a1a" stroke-width="1.2"/>
<text x="453.46" y="260.2" text-anchor="middle" font-family="Liberation Serif, serif" font-weight="bold" font-size="15.3" fill="#000">280</text>
<line x1="480.94" y1="240.4" x2="480.94" y2="242.60" stroke="#1a1a1a" stroke-width="1.2"/>
<line x1="508.42" y1="240.4" x2="508.42" y2="244.80" stroke="#1a1a1a" stroke-width="1.2"/>
<text x="508.42" y="260.2" text-anchor="middle" font-family="Liberation Serif, serif" font-weight="bold" font-size="15.3" fill="#000">290</text>
<line x1="535.90" y1="240.4" x2="535.90" y2="242.60" stroke="#1a1a1a" stroke-width="1.2"/>
<line x1="563.38" y1="240.4" x2="563.38" y2="244.80" stroke="#1a1a1a" stroke-width="1.2"/>
<text x="563.38" y="260.2" text-anchor="middle" font-family="Liberation Serif, serif" font-weight="bold" font-size="15.3" fill="#000">300</text>
<line x1="590.86" y1="240.4" x2="590.86" y2="242.60" stroke="#1a1a1a" stroke-width="1.2"/>
<line x1="618.34" y1="240.4" x2="618.34" y2="244.80" stroke="#1a1a1a" stroke-width="1.2"/>
<text x="618.34" y="260.2" text-anchor="middle" font-family="Liberation Serif, serif" font-weight="bold" font-size="15.3" fill="#000">310</text>
<line x1="645.82" y1="240.4" x2="645.82" y2="242.60" stroke="#1a1a1a" stroke-width="1.2"/>
<line x1="673.30" y1="240.4" x2="673.30" y2="244.80" stroke="#1a1a1a" stroke-width="1.2"/>
<text x="673.30" y="260.2" text-anchor="middle" font-family="Liberation Serif, serif" font-weight="bold" font-size="15.3" fill="#000">320</text>
<text x="520" y="275.4" font-family="Liberation Serif, serif" font-weight="bold" font-size="15.5" fill="#000"><tspan font-style="italic">T</tspan><tspan font-size="9.5" dy="4.1">c</tspan><tspan dy="-4.1">(K)</tspan></text>
<text transform="translate(348.2,136.2) rotate(-90)" x="0" y="0" font-family="Liberation Serif, serif" font-weight="bold" font-size="24" fill="#000"><tspan>ε</tspan><tspan font-size="18" dy="7">c</tspan></text>
<rect x="454.5" y="111.5" width="89.0" height="84.0" fill="none" stroke="#666" stroke-width="0.7"/>
<line x1="454.5" y1="165.2" x2="543.5" y2="164.5" stroke="#4a4a4a" stroke-width="0.9"/>
<line x1="454.5" y1="161.2" x2="543.5" y2="160.3" stroke="#F14040" stroke-width="0.9"/>
<line x1="454.5" y1="156.5" x2="543.5" y2="155.4" stroke="#1A6FDF" stroke-width="0.9"/>
<line x1="454.5" y1="152.6" x2="543.5" y2="150.9" stroke="#37AD6B" stroke-width="0.9"/>
<line x1="454.5" y1="148.4" x2="543.5" y2="146.3" stroke="#B177DE" stroke-width="0.9"/>
<text x="452.8" y="126.9" text-anchor="end" font-family="Liberation Serif, serif" font-weight="bold" font-size="9.2" fill="#000">150</text>
<text x="452.8" y="141.1" text-anchor="end" font-family="Liberation Serif, serif" font-weight="bold" font-size="9.2" fill="#000">100</text>
<text x="452.8" y="155.4" text-anchor="end" font-family="Liberation Serif, serif" font-weight="bold" font-size="9.2" fill="#000">50</text>
<text x="452.8" y="169.7" text-anchor="end" font-family="Liberation Serif, serif" font-weight="bold" font-size="9.2" fill="#000">0</text>
<text x="452.8" y="184.0" text-anchor="end" font-family="Liberation Serif, serif" font-weight="bold" font-size="9.2" fill="#000">-50</text>
<text x="464.5" y="204.2" text-anchor="middle" font-family="Liberation Serif, serif" font-weight="bold" font-size="9.2" fill="#000">284.0</text>
<text x="492" y="204.2" text-anchor="middle" font-family="Liberation Serif, serif" font-weight="bold" font-size="9.2" fill="#000">284.5</text>
<text x="518.9" y="204.2" text-anchor="middle" font-family="Liberation Serif, serif" font-weight="bold" font-size="9.2" fill="#000">285.0</text>
<text x="494.4" y="216.6" font-family="Liberation Serif, serif" font-weight="bold" font-size="12.4" fill="#000"><tspan font-style="italic">T</tspan><tspan font-size="8.8" dx="-0.6" dy="3">c</tspan></text>
<text transform="translate(435.4,165.7) rotate(-90)" x="0" y="0" font-family="Liberation Serif, serif" font-weight="bold" font-size="16" fill="#000"><tspan>ε</tspan><tspan font-size="11.5" dy="4.7">c</tspan></text>
</svg>
</body></html>
